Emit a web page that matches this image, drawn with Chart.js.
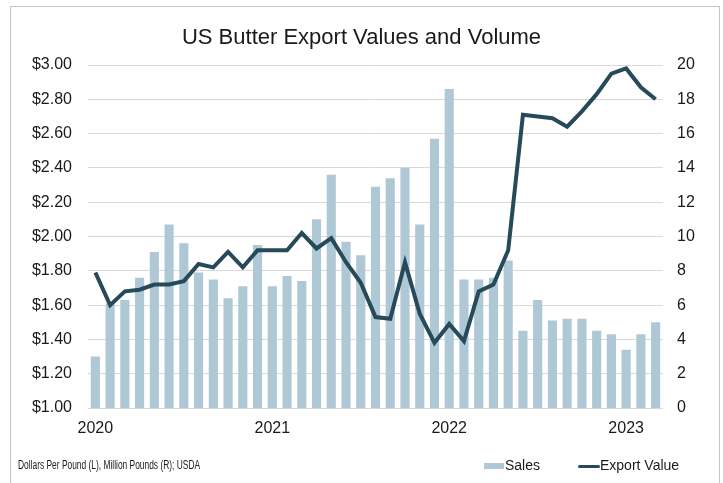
<!DOCTYPE html>
<html lang="en">
<head>
    <meta charset="UTF-8">
    <title>US Butter Export Values and Volume</title>
    <script src="https://cdn.jsdelivr.net/npm/chart.js@4/dist/chart.umd.min.js"></script>
    <style>
        body {
            margin: 0;
            background-color: white;
            font-family: "Liberation Sans", Arial, sans-serif;
        }
        .frame {
            position: absolute;
            left: 10px;
            top: 6px;
            width: 708px;
            height: 490px;
            border: 1px solid #c6c6c6;
        }
        .chart {
            position: absolute;
            left: 0;
            top: 0;
            width: 723px;
            height: 483px;
        }
        .title {
            position: absolute;
            left: 0;
            width: 723px;
            top: 24px;
            text-align: center;
            font-size: 22px;
            color: #1a1a1a;
        }
        .source {
            position: absolute;
            left: 18px;
            top: 458px;
            font-size: 12px;
            color: #1a1a1a;
            transform: scaleX(0.7);
            transform-origin: left top;
            white-space: nowrap;
        }
        .legend {
            position: absolute;
            top: 457px;
            font-size: 14px;
            color: #1a1a1a;
        }
        .swatch {
            position: absolute;
        }
    </style>
</head>
<body>
<div class="frame"></div>
<div class="chart">
    <canvas id="butterChart" width="723" height="483"></canvas>
</div>
<div class="title">US Butter Export Values and Volume</div>
<div class="source">Dollars Per Pound (L), Million Pounds (R); USDA</div>
<div class="swatch" style="left:484px; top:463px; width:20px; height:6px; background:#afc8d6;"></div>
<div class="legend" style="left:505px;">Sales</div>
<div class="swatch" style="left:578px; top:465px; width:22px; height:3px; background:#264a5a; border-radius:2px;"></div>
<div class="legend" style="left:600px;">Export Value</div>
<script>
    // months Jan 2020 - Mar 2023
    const months = [
        '2020-01', '2020-02', '2020-03', '2020-04', '2020-05', '2020-06', '2020-07', '2020-08', '2020-09', '2020-10', '2020-11', '2020-12',
        '2021-01', '2021-02', '2021-03', '2021-04', '2021-05', '2021-06', '2021-07', '2021-08', '2021-09', '2021-10', '2021-11', '2021-12',
        '2022-01', '2022-02', '2022-03', '2022-04', '2022-05', '2022-06', '2022-07', '2022-08', '2022-09', '2022-10', '2022-11', '2022-12',
        '2023-01', '2023-02', '2023-03'
    ];

    // bars, left axis (dollars per pound)
    const sales = [
        1.30, 1.61, 1.63, 1.76, 1.91, 2.07, 1.96, 1.79, 1.75, 1.64, 1.71, 1.95,
        1.71, 1.77, 1.74, 2.10, 2.36, 1.97, 1.89, 2.29, 2.34, 2.40, 2.07, 2.57,
        2.86, 1.75, 1.75, 1.76, 1.86, 1.45, 1.63, 1.51, 1.52, 1.52, 1.45, 1.43,
        1.34, 1.43, 1.50
    ];

    // line, right axis (million pounds)
    const exportValue = [
        7.9, 6.0, 6.8, 6.9, 7.2, 7.2, 7.4, 8.4, 8.2, 9.1, 8.2, 9.2,
        9.2, 9.2, 10.2, 9.3, 9.9, 8.5, 7.3, 5.3, 5.2, 8.5, 5.5, 3.8,
        4.9, 3.9, 6.8, 7.2, 9.2, 17.1, 17.0, 16.9, 16.4, 17.3, 18.3, 19.5,
        19.8, 18.7, 18.0
    ];

    const leftTicks = { min: 1, max: 3, step: 0.2 };
    const rightTicks = { min: 0, max: 20, step: 2 };

    const tickFont = { family: '"Liberation Sans", Arial, sans-serif', size: 16 };

    new Chart(document.getElementById('butterChart').getContext('2d'), {
        data: {
            labels: months,
            datasets: [{
                type: 'line',
                label: 'Export Value',
                data: exportValue,
                yAxisID: 'y1',
                borderColor: '#264a5a',
                borderWidth: 4,
                pointRadius: 0,
                tension: 0,
                order: 0
            }, {
                type: 'bar',
                label: 'Sales',
                data: sales,
                yAxisID: 'y',
                backgroundColor: '#afc8d6',
                categoryPercentage: 1,
                barPercentage: 0.62,
                order: 1
            }]
        },
        options: {
            responsive: false,
            animation: false,
            layout: { padding: { top: 65, bottom: 40, left: 0, right: 0 } },
            plugins: {
                legend: { display: false },
                title: { display: false },
                tooltip: { enabled: false }
            },
            scales: {
                x: {
                    offset: true,
                    grid: { display: false },
                    border: { display: false },
                    ticks: {
                        autoSkip: false,
                        maxRotation: 0,
                        padding: 3,
                        color: '#1a1a1a',
                        font: tickFont,
                        callback: function (v, i) {
                            const m = months[i];
                            return m.endsWith('-01') ? m.slice(0, 4) : '';
                        }
                    },
                    afterFit: function (scale) { scale.height = 35; }
                },
                y: {
                    position: 'left',
                    min: leftTicks.min,
                    max: leftTicks.max,
                    grid: { color: '#d9d9d9', lineWidth: 1, drawTicks: false },
                    border: { display: false },
                    ticks: {
                        stepSize: leftTicks.step,
                        padding: 16,
                        color: '#1a1a1a',
                        font: tickFont,
                        callback: v => '$' + v.toFixed(2)
                    },
                    afterFit: function (scale) { scale.width = 88; }
                },
                y1: {
                    position: 'right',
                    min: rightTicks.min,
                    max: rightTicks.max,
                    grid: { display: false, drawTicks: false },
                    border: { display: false },
                    ticks: {
                        stepSize: rightTicks.step,
                        padding: 14,
                        color: '#1a1a1a',
                        font: tickFont
                    },
                    afterFit: function (scale) { scale.width = 60; }
                }
            }
        }
    });
</script>
</body>
</html>
